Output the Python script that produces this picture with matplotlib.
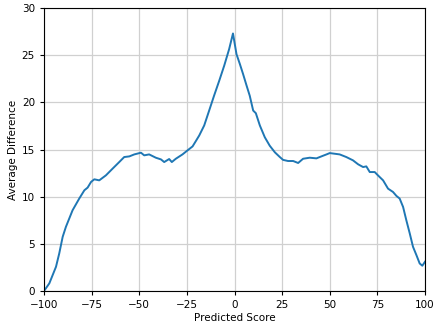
import matplotlib
matplotlib.use("Agg")
import matplotlib.pyplot as plt

score = [-100, -97.2, -93.7, -92, -90.2, -88.5, -85, -81.5, -78.8, -77.1, -75.3, -73.6, -71, -67.5,
         -64, -60.5, -57.9, -55.2, -52.6, -49.1, -47.4, -44.8, -41.3, -38.6, -36.9, -34.3, -32.9,
         -30.8, -27.3, -24.7, -22.0, -20.3, -18.5, -15.9, -13.3, -10.7, -8.0, -5.4, -2.8, -0.8,
         1.05, 2.8, 4.5, 6.3, 8.0, 9.8, 11.2, 13.3, 15.9, 18.5, 21.2, 23.8, 25.5, 28.1, 30.8,
         33.4, 36.0, 39.5, 43.0, 46.5, 48.3, 50.0, 52.6, 55.2, 58.7, 62.2, 64.9, 67.5, 69.2,
         71.0, 73.6, 75.3, 78.0, 80.6, 83.2, 85.0, 86.7, 88.5, 90.2, 92.0, 93.7, 95.5, 97.2,
         98.6, 100]
avg_diff = [0.0, 0.81, 2.57, 3.98, 5.74, 6.8, 8.56, 9.8, 10.68, 10.96, 11.56, 11.84, 11.73, 12.26,
            12.97, 13.67, 14.2, 14.27, 14.48, 14.66, 14.38, 14.48, 14.13, 13.95, 13.67, 13.99, 13.67,
            14.02, 14.48, 14.9, 15.33, 15.89, 16.49, 17.55, 19.13, 20.72, 22.3, 23.89, 25.65, 27.3,
            25.1, 24.07, 23.0, 21.8, 20.7, 19.13, 18.85, 17.55, 16.3, 15.4, 14.7, 14.2, 13.9, 13.78,
            13.78, 13.57, 14.02, 14.13, 14.06, 14.34, 14.48, 14.62, 14.55, 14.48, 14.2, 13.85,
            13.43, 13.14, 13.21, 12.61, 12.61, 12.26, 11.73, 10.85, 10.5, 10.08, 9.8, 8.91, 7.5,
            6.1, 4.69, 3.8, 2.92, 2.68, 3.1]

fig = plt.figure(figsize=(4.33, 3.28), dpi=100)
ax = fig.add_axes([44/433, 1-291/328, (425-44)/433, (291-8)/328])
ax.plot(score, avg_diff, color="#1f77b4", linewidth=1.4)
ax.set_xlim(-100, 100)
ax.set_ylim(0, 30)
ax.set_xticks([-100, -75, -50, -25, 0, 25, 50, 75, 100])
ax.set_yticks([0, 5, 10, 15, 20, 25, 30])
ax.grid(True, color="#d0d0d0", linewidth=0.9)
ax.set_axisbelow(True)
ax.tick_params(labelsize=7.5, length=3)
ax.set_xlabel("Predicted Score", fontsize=7.5, labelpad=2)
ax.set_ylabel("Average Difference", fontsize=7.5, labelpad=3)
fig.savefig("out.png", dpi=100)
